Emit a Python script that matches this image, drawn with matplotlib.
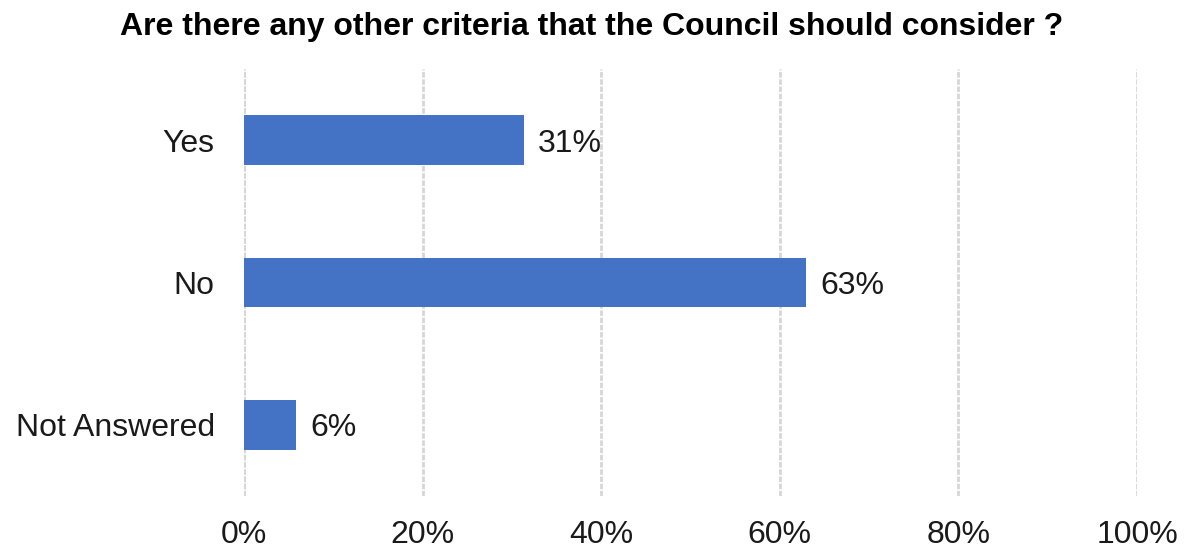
import matplotlib.pyplot as plt
import numpy as np

plt.rcParams['font.family'] = ['Liberation Sans', 'DejaVu Sans']

# data ---------------------------------------------------------------#
categories = ["Yes", "No", "Not Answered"]
percent = [31.3, 62.9, 5.8]
labels = ["31%", "63%", "6%"]
title = "Are there any other criteria that the Council should consider ?"

fig = plt.figure(figsize=(11.84, 5.49), dpi=100)
ax = fig.add_axes([244/1184, 53/549, (1137-244)/1184, (480-53)/549])

y = np.arange(len(categories))
ax.barh(y, percent, height=0.35, color="#4472C4", zorder=3)
for yi, v, lab in zip(y, percent, labels):
    ax.text(v + 1.6, yi, lab, va="center_baseline", ha="left", fontsize=23, color="#1a1a1a")

ax.set_xlim(0, 100)
ax.set_ylim(2.5, -0.5)
ax.set_yticks(y)
ax.set_yticklabels(categories, fontsize=23)
ax.set_xticks(np.arange(0, 101, 20))
ax.set_xticklabels([f"{t}%" for t in range(0, 101, 20)], fontsize=23)
ax.tick_params(axis="both", length=0, colors="#1a1a1a")
ax.tick_params(axis="y", pad=21)
ax.tick_params(axis="x", pad=17)

ax.grid(axis="x", color="#D6D6D6", linewidth=2, linestyle=(0, (2, 0.6)), zorder=0)
for s in ["top", "right", "bottom", "left"]:
    ax.spines[s].set_visible(False)
ax.axvline(0, color="#D6D6D6", linewidth=2, linestyle=(0, (2, 0.6)), zorder=1)

fig.text(0.5, 1 - 27/549, title, ha="center", va="center", fontsize=23, fontweight="bold")

fig.savefig("out.png", dpi=100, facecolor="white")
